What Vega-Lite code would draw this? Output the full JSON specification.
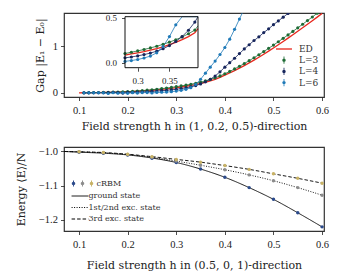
{
  "$schema": "https://vega.github.io/schema/vega-lite/v6.json",
  "padding": {"left": 14, "top": 12, "right": 0, "bottom": 0},
  "config": {
    "view": {"stroke": "#333", "strokeWidth": 1.2},
    "font": "DejaVu Serif",
    "axis": {"labelFont": "Liberation Serif", "titleFont": "DejaVu Serif", "labelFontSize": 10.5, "titleFontSize": 11, "titleFontWeight": "normal", "labelColor": "#222", "titleColor": "#222", "tickColor": "#222", "tickSize": 3.5, "tickWidth": 0.8, "domain": false, "grid": false, "labelPadding": 3},
    "legend": {"labelFont": "DejaVu Serif", "labelColor": "#333", "padding": 0, "titlePadding": 0}
  },
  "resolve": {"scale": {"color": "independent", "strokeDash": "independent", "shape": "independent"}},
  "bounds": "flush",
  "spacing": 50,
  "datasets": {
    "ed": [
      {"h":0.10,"g":0.000},{"h":0.11,"g":0.001},{"h":0.12,"g":0.002},{"h":0.13,"g":0.003},{"h":0.14,"g":0.004},{"h":0.15,"g":0.006},{"h":0.16,"g":0.008},{"h":0.17,"g":0.011},{"h":0.18,"g":0.014},{"h":0.19,"g":0.018},{"h":0.20,"g":0.022},{"h":0.21,"g":0.027},{"h":0.22,"g":0.033},{"h":0.23,"g":0.040},{"h":0.24,"g":0.047},{"h":0.25,"g":0.055},{"h":0.26,"g":0.064},{"h":0.27,"g":0.074},{"h":0.28,"g":0.085},{"h":0.29,"g":0.097},{"h":0.30,"g":0.110},{"h":0.31,"g":0.124},{"h":0.32,"g":0.140},{"h":0.33,"g":0.157},{"h":0.34,"g":0.177},{"h":0.35,"g":0.200},{"h":0.36,"g":0.226},{"h":0.37,"g":0.256},{"h":0.38,"g":0.290},{"h":0.39,"g":0.332},{"h":0.40,"g":0.378},{"h":0.41,"g":0.425},{"h":0.42,"g":0.475},{"h":0.43,"g":0.528},{"h":0.44,"g":0.583},{"h":0.45,"g":0.640},{"h":0.46,"g":0.700},{"h":0.47,"g":0.762},{"h":0.48,"g":0.826},{"h":0.49,"g":0.892},{"h":0.50,"g":0.960},{"h":0.51,"g":1.030},{"h":0.52,"g":1.100},{"h":0.53,"g":1.172},{"h":0.54,"g":1.245},{"h":0.55,"g":1.320},{"h":0.56,"g":1.395},{"h":0.57,"g":1.470},{"h":0.58,"g":1.546},{"h":0.59,"g":1.622},{"h":0.60,"g":1.700}
    ],
    "L": [
      {"s":"L=3","h":0.11,"g":0.002},{"s":"L=3","h":0.12,"g":0.003},{"s":"L=3","h":0.13,"g":0.004},{"s":"L=3","h":0.14,"g":0.006},{"s":"L=3","h":0.15,"g":0.008},{"s":"L=3","h":0.16,"g":0.010},{"s":"L=3","h":0.17,"g":0.013},{"s":"L=3","h":0.18,"g":0.017},{"s":"L=3","h":0.19,"g":0.021},{"s":"L=3","h":0.20,"g":0.026},{"s":"L=3","h":0.21,"g":0.032},{"s":"L=3","h":0.22,"g":0.039},{"s":"L=3","h":0.23,"g":0.047},{"s":"L=3","h":0.24,"g":0.056},{"s":"L=3","h":0.25,"g":0.066},{"s":"L=3","h":0.26,"g":0.077},{"s":"L=3","h":0.27,"g":0.089},{"s":"L=3","h":0.28,"g":0.102},{"s":"L=3","h":0.29,"g":0.116},{"s":"L=3","h":0.30,"g":0.131},{"s":"L=3","h":0.31,"g":0.147},{"s":"L=3","h":0.32,"g":0.164},{"s":"L=3","h":0.33,"g":0.183},{"s":"L=3","h":0.34,"g":0.204},{"s":"L=3","h":0.35,"g":0.228},{"s":"L=3","h":0.36,"g":0.255},{"s":"L=3","h":0.37,"g":0.286},{"s":"L=3","h":0.38,"g":0.321},{"s":"L=3","h":0.39,"g":0.362},{"s":"L=3","h":0.40,"g":0.408},{"s":"L=3","h":0.41,"g":0.458},{"s":"L=3","h":0.42,"g":0.511},{"s":"L=3","h":0.43,"g":0.567},{"s":"L=3","h":0.44,"g":0.626},{"s":"L=3","h":0.45,"g":0.688},{"s":"L=3","h":0.46,"g":0.751},{"s":"L=3","h":0.47,"g":0.816},{"s":"L=3","h":0.48,"g":0.883},{"s":"L=3","h":0.49,"g":0.952},{"s":"L=3","h":0.50,"g":1.022},{"s":"L=3","h":0.51,"g":1.094},{"s":"L=3","h":0.52,"g":1.167},{"s":"L=3","h":0.53,"g":1.241},{"s":"L=3","h":0.54,"g":1.316},{"s":"L=3","h":0.55,"g":1.392},{"s":"L=3","h":0.56,"g":1.469},{"s":"L=3","h":0.57,"g":1.547},{"s":"L=3","h":0.58,"g":1.625},{"s":"L=3","h":0.59,"g":1.704},{"s":"L=3","h":0.60,"g":1.783},
      {"s":"L=4","h":0.11,"g":0.000},{"s":"L=4","h":0.12,"g":0.000},{"s":"L=4","h":0.13,"g":0.001},{"s":"L=4","h":0.14,"g":0.001},{"s":"L=4","h":0.15,"g":0.002},{"s":"L=4","h":0.16,"g":0.003},{"s":"L=4","h":0.17,"g":0.012},{"s":"L=4","h":0.18,"g":0.005},{"s":"L=4","h":0.19,"g":-0.006},{"s":"L=4","h":0.20,"g":0.009},{"s":"L=4","h":0.21,"g":0.012},{"s":"L=4","h":0.22,"g":0.015},{"s":"L=4","h":0.23,"g":0.019},{"s":"L=4","h":0.24,"g":0.024},{"s":"L=4","h":0.25,"g":0.030},{"s":"L=4","h":0.26,"g":0.037},{"s":"L=4","h":0.27,"g":0.045},{"s":"L=4","h":0.28,"g":0.054},{"s":"L=4","h":0.29,"g":0.064},{"s":"L=4","h":0.30,"g":0.076},{"s":"L=4","h":0.31,"g":0.090},{"s":"L=4","h":0.32,"g":0.107},{"s":"L=4","h":0.33,"g":0.128},{"s":"L=4","h":0.34,"g":0.155},{"s":"L=4","h":0.35,"g":0.190},{"s":"L=4","h":0.36,"g":0.235},{"s":"L=4","h":0.37,"g":0.290},{"s":"L=4","h":0.38,"g":0.360},{"s":"L=4","h":0.39,"g":0.450},{"s":"L=4","h":0.40,"g":0.550},{"s":"L=4","h":0.41,"g":0.645},{"s":"L=4","h":0.42,"g":0.740},{"s":"L=4","h":0.43,"g":0.840},{"s":"L=4","h":0.44,"g":0.940},{"s":"L=4","h":0.45,"g":1.030},{"s":"L=4","h":0.46,"g":1.120},{"s":"L=4","h":0.47,"g":1.200},{"s":"L=4","h":0.48,"g":1.290},{"s":"L=4","h":0.49,"g":1.370},{"s":"L=4","h":0.50,"g":1.460},{"s":"L=4","h":0.51,"g":1.540},{"s":"L=4","h":0.52,"g":1.620},{"s":"L=4","h":0.53,"g":1.700},{"s":"L=4","h":0.54,"g":1.780},
      {"s":"L=6","h":0.11,"g":0.000},{"s":"L=6","h":0.12,"g":0.000},{"s":"L=6","h":0.13,"g":0.000},{"s":"L=6","h":0.14,"g":0.000},{"s":"L=6","h":0.15,"g":0.000},{"s":"L=6","h":0.16,"g":-0.015},{"s":"L=6","h":0.17,"g":0.001},{"s":"L=6","h":0.18,"g":-0.010},{"s":"L=6","h":0.19,"g":0.002},{"s":"L=6","h":0.20,"g":-0.012},{"s":"L=6","h":0.21,"g":0.003},{"s":"L=6","h":0.22,"g":-0.006},{"s":"L=6","h":0.23,"g":0.004},{"s":"L=6","h":0.24,"g":0.005},{"s":"L=6","h":0.25,"g":-0.004},{"s":"L=6","h":0.26,"g":0.008},{"s":"L=6","h":0.27,"g":0.011},{"s":"L=6","h":0.28,"g":0.015},{"s":"L=6","h":0.29,"g":0.024},{"s":"L=6","h":0.30,"g":0.036},{"s":"L=6","h":0.31,"g":0.052},{"s":"L=6","h":0.32,"g":0.074},{"s":"L=6","h":0.33,"g":0.110},{"s":"L=6","h":0.34,"g":0.180},{"s":"L=6","h":0.35,"g":0.290},{"s":"L=6","h":0.36,"g":0.420},{"s":"L=6","h":0.37,"g":0.550},{"s":"L=6","h":0.38,"g":0.680},{"s":"L=6","h":0.39,"g":0.820},{"s":"L=6","h":0.40,"g":0.970},{"s":"L=6","h":0.41,"g":1.150},{"s":"L=6","h":0.42,"g":1.360},{"s":"L=6","h":0.43,"g":1.580},{"s":"L=6","h":0.44,"g":1.800}
    ],
    "box": [{"x1":0.28,"x2":0.395,"y1":-0.055,"y2":0.51}],
    "edE": [
      {"curve":"ground state","h":0.07,"E":-1.001},{"curve":"ground state","h":0.10,"E":-1.003},{"curve":"ground state","h":0.15,"E":-1.006},{"curve":"ground state","h":0.20,"E":-1.011},{"curve":"ground state","h":0.25,"E":-1.020},{"curve":"ground state","h":0.30,"E":-1.033},{"curve":"ground state","h":0.35,"E":-1.052},{"curve":"ground state","h":0.40,"E":-1.076},{"curve":"ground state","h":0.45,"E":-1.106},{"curve":"ground state","h":0.50,"E":-1.140},{"curve":"ground state","h":0.55,"E":-1.179},{"curve":"ground state","h":0.60,"E":-1.220},
      {"curve":"1st/2nd exc. state","h":0.07,"E":-1.001},{"curve":"1st/2nd exc. state","h":0.10,"E":-1.002},{"curve":"1st/2nd exc. state","h":0.15,"E":-1.005},{"curve":"1st/2nd exc. state","h":0.20,"E":-1.010},{"curve":"1st/2nd exc. state","h":0.25,"E":-1.018},{"curve":"1st/2nd exc. state","h":0.30,"E":-1.029},{"curve":"1st/2nd exc. state","h":0.35,"E":-1.041},{"curve":"1st/2nd exc. state","h":0.40,"E":-1.054},{"curve":"1st/2nd exc. state","h":0.45,"E":-1.069},{"curve":"1st/2nd exc. state","h":0.50,"E":-1.086},{"curve":"1st/2nd exc. state","h":0.55,"E":-1.106},{"curve":"1st/2nd exc. state","h":0.60,"E":-1.128},
      {"curve":"3rd exc. state","h":0.07,"E":-1.001},{"curve":"3rd exc. state","h":0.10,"E":-1.002},{"curve":"3rd exc. state","h":0.15,"E":-1.004},{"curve":"3rd exc. state","h":0.20,"E":-1.009},{"curve":"3rd exc. state","h":0.25,"E":-1.016},{"curve":"3rd exc. state","h":0.30,"E":-1.024},{"curve":"3rd exc. state","h":0.35,"E":-1.032},{"curve":"3rd exc. state","h":0.40,"E":-1.042},{"curve":"3rd exc. state","h":0.45,"E":-1.053},{"curve":"3rd exc. state","h":0.50,"E":-1.066},{"curve":"3rd exc. state","h":0.55,"E":-1.079},{"curve":"3rd exc. state","h":0.60,"E":-1.093}
    ],
    "crbm": [
      {"st":"g","h":0.10,"E":-1.003},{"st":"g","h":0.15,"E":-1.006},{"st":"g","h":0.20,"E":-1.011},{"st":"g","h":0.25,"E":-1.021},{"st":"g","h":0.30,"E":-1.033},{"st":"g","h":0.35,"E":-1.052},{"st":"g","h":0.40,"E":-1.076},{"st":"g","h":0.45,"E":-1.106},{"st":"g","h":0.50,"E":-1.140},{"st":"g","h":0.55,"E":-1.179},{"st":"g","h":0.60,"E":-1.220},
      {"st":"e12","h":0.10,"E":-1.002},{"st":"e12","h":0.15,"E":-1.005},{"st":"e12","h":0.20,"E":-1.010},{"st":"e12","h":0.25,"E":-1.018},{"st":"e12","h":0.30,"E":-1.029},{"st":"e12","h":0.35,"E":-1.041},{"st":"e12","h":0.40,"E":-1.054},{"st":"e12","h":0.45,"E":-1.069},{"st":"e12","h":0.50,"E":-1.086},{"st":"e12","h":0.55,"E":-1.106},{"st":"e12","h":0.60,"E":-1.128},
      {"st":"e3","h":0.10,"E":-1.002},{"st":"e3","h":0.15,"E":-1.004},{"st":"e3","h":0.20,"E":-1.009},{"st":"e3","h":0.25,"E":-1.016},{"st":"e3","h":0.30,"E":-1.024},{"st":"e3","h":0.35,"E":-1.032},{"st":"e3","h":0.40,"E":-1.042},{"st":"e3","h":0.45,"E":-1.053},{"st":"e3","h":0.50,"E":-1.066},{"st":"e3","h":0.55,"E":-1.079},{"st":"e3","h":0.60,"E":-1.093}
    ]
  },
  "vconcat": [
    {
      "width": 260,
      "height": 84,
      "resolve": {"scale": {"x": "independent", "y": "independent"}, "axis": {"x": "independent", "y": "independent"}},
      "layer": [
        {
          "layer": [
            {
              "data": {"name": "ed"},
              "mark": {"type": "line", "color": "#e8281e", "strokeWidth": 1.3, "clip": true},
              "encoding": {
                "x": {"field": "h", "type": "quantitative", "scale": {"domain": [0.069, 0.604], "nice": false, "zero": false}, "axis": {"values": [0.1, 0.2, 0.3, 0.4, 0.5, 0.6], "format": ".1f", "title": "Field strength h in (1, 0.2, 0.5)-direction", "titlePadding": 4, "labelPadding": 5}},
                "y": {"field": "g", "type": "quantitative", "scale": {"domain": [-0.09, 1.71], "nice": false, "zero": false}, "axis": {"values": [0, 1], "format": "d", "title": "Gap |E₁ − E₀|", "titlePadding": 7}}
              }
            },
            {
              "data": {"name": "L"},
              "mark": {"type": "line", "strokeWidth": 0.8, "clip": true},
              "encoding": {
                "x": {"field": "h", "type": "quantitative"},
                "y": {"field": "g", "type": "quantitative"},
                "color": {"field": "s", "type": "nominal", "scale": {"domain": ["ED", "L=3", "L=4", "L=6"], "range": ["#e8281e", "#1e6b35", "#16255c", "#1f7ab8"]}}
              }
            },
            {
              "data": {"name": "L"},
              "mark": {"type": "point", "filled": true, "size": 10, "opacity": 1, "clip": true},
              "encoding": {
                "x": {"field": "h", "type": "quantitative"},
                "y": {"field": "g", "type": "quantitative"},
                "color": {"field": "s", "type": "nominal"}
              }
            },
            {
              "data": {"name": "L"},
              "mark": {"type": "point", "filled": true, "size": 10, "opacity": 0, "clip": true},
              "encoding": {
                "x": {"field": "h", "type": "quantitative"},
                "y": {"field": "g", "type": "quantitative"},
                "color": {
                  "field": "s", "type": "nominal",
                  "legend": {"orient": "none", "legendX": 214, "legendY": 30, "title": null, "symbolSize": 144, "symbolStrokeWidth": 0, "symbolOpacity": 1, "labelOffset": 9, "rowPadding": 0.2, "labelFontSize": 9}
                },
                "shape": {
                  "field": "s", "type": "nominal",
                  "scale": {"domain": ["ED", "L=3", "L=4", "L=6"], "range": ["M-1.33,-0.11H1.33V0.11H-1.33Z", "M-0.07,-0.6H0.07V0.6H-0.07ZM-0.28,0A0.28,0.28 0 1,1 0.28,0A0.28,0.28 0 1,1 -0.28,0Z", "M-0.07,-0.6H0.07V0.6H-0.07ZM-0.28,0A0.28,0.28 0 1,1 0.28,0A0.28,0.28 0 1,1 -0.28,0Z", "M-0.07,-0.6H0.07V0.6H-0.07ZM-0.28,0A0.28,0.28 0 1,1 0.28,0A0.28,0.28 0 1,1 -0.28,0Z"]},
                  "legend": {"orient": "none", "legendX": 214, "legendY": 30, "title": null, "symbolSize": 144, "symbolStrokeWidth": 0, "symbolOpacity": 1, "labelOffset": 9, "rowPadding": 0.2, "labelFontSize": 9}
                }
              }
            }
          ]
        },
        {
          "layer": [
            {
              "data": {"name": "box"},
              "mark": {"type": "rect", "fill": "white"},
              "encoding": {
                "x": {"field": "x1", "type": "quantitative", "scale": {"domain": [0.28, 0.395], "range": [61, 134], "clamp": true, "nice": false, "zero": false}, "axis": {"orient": "bottom", "offset": -29.3, "values": [0.3, 0.35], "format": ".2~f", "title": null, "labelFontSize": 9, "tickSize": 3.5, "labelPadding": 5}},
                "x2": {"field": "x2"},
                "y": {"field": "y1", "type": "quantitative", "scale": {"domain": [-0.055, 0.51], "range": [54.7, 3.7], "clamp": true, "nice": false, "zero": false}, "axis": {"orient": "left", "offset": -61, "values": [0, 0.5], "format": ".1f", "title": null, "labelFontSize": 9, "tickSize": 3.5, "labelPadding": 5}},
                "y2": {"field": "y2"}
              }
            },
            {
              "data": {"name": "ed"},
              "transform": [{"filter": "datum.h >= 0.28 && datum.h <= 0.4"}],
              "mark": {"type": "line", "color": "#e8281e", "strokeWidth": 1.3},
              "encoding": {"x": {"field": "h", "type": "quantitative"}, "y": {"field": "g", "type": "quantitative"}}
            },
            {
              "data": {"name": "L"},
              "transform": [{"filter": "datum.h >= 0.28 && datum.h <= 0.4"}],
              "mark": {"type": "line", "strokeWidth": 0.8},
              "encoding": {"x": {"field": "h", "type": "quantitative"}, "y": {"field": "g", "type": "quantitative"}, "color": {"field": "s", "type": "nominal"}}
            },
            {
              "data": {"name": "L"},
              "transform": [{"filter": "datum.h >= 0.28 && datum.h <= 0.395 && datum.g <= 0.51"}],
              "mark": {"type": "point", "filled": true, "size": 10, "opacity": 1},
              "encoding": {"x": {"field": "h", "type": "quantitative"}, "y": {"field": "g", "type": "quantitative"}, "color": {"field": "s", "type": "nominal"}}
            },
            {
              "data": {"name": "box"},
              "mark": {"type": "rect", "fill": null, "stroke": "#111", "strokeWidth": 1},
              "encoding": {"x": {"field": "x1", "type": "quantitative"}, "x2": {"field": "x2"}, "y": {"field": "y1", "type": "quantitative"}, "y2": {"field": "y2"}}
            }
          ]
        }
      ]
    },
    {
      "width": 260,
      "height": 84,
      "layer": [
        {
          "data": {"name": "edE"},
          "mark": {"type": "line", "color": "black", "strokeWidth": 0.9, "interpolate": "monotone", "clip": true},
          "encoding": {
            "x": {"field": "h", "type": "quantitative", "scale": {"domain": [0.069, 0.604], "nice": false, "zero": false}, "axis": {"values": [0.1, 0.2, 0.3, 0.4, 0.5, 0.6], "format": ".1f", "title": "Field strength h in (0.5, 0, 1)-direction", "titlePadding": 9, "labelPadding": 5}},
            "y": {"field": "E", "type": "quantitative", "scale": {"domain": [-1.232, -0.988], "nice": false, "zero": false}, "axis": {"values": [-1.2, -1.1, -1.0], "format": ".1f", "title": "Energy ⟨E⟩/N", "titlePadding": 12}},
            "strokeDash": {
              "field": "curve", "type": "nominal",
              "scale": {"domain": ["ground state", "1st/2nd exc. state", "3rd exc. state"], "range": [[1, 0], [1, 1.5], [3.5, 2]]},
              "legend": {"orient": "none", "legendX": 9.5, "legendY": 42.5, "title": null, "symbolType": "M-1.4,0H1.4", "symbolSize": 144, "symbolStrokeColor": "black", "symbolStrokeWidth": 1, "symbolFillColor": "transparent", "labelOffset": 2, "rowPadding": 0.5, "labelFontSize": 8}
            }
          }
        },
        {
          "data": {"name": "crbm"},
          "mark": {"type": "point", "filled": true, "size": 12, "opacity": 1},
          "encoding": {
            "x": {"field": "h", "type": "quantitative"},
            "y": {"field": "E", "type": "quantitative"},
            "color": {
              "field": "st", "type": "nominal",
              "scale": {"domain": ["g", "e12", "e3"], "range": ["#2b4a8b", "#8c8c8c", "#c8b265"]},
              "legend": {"orient": "none", "legendX": 5.5, "legendY": 32.5, "title": null, "direction": "horizontal", "symbolType": "M-0.14,-0.85H0.14V0.85H-0.14ZM-0.5,0A0.5,0.5 0 1,1 0.5,0A0.5,0.5 0 1,1 -0.5,0Z", "symbolSize": 49, "symbolStrokeWidth": 0, "labelOffset": 1, "columnPadding": 0, "labelFontSize": 8, "labelExpr": "datum.value == 'e3' ? 'cRBM' : ''"}
            }
          }
        }
      ]
    }
  ]
}
